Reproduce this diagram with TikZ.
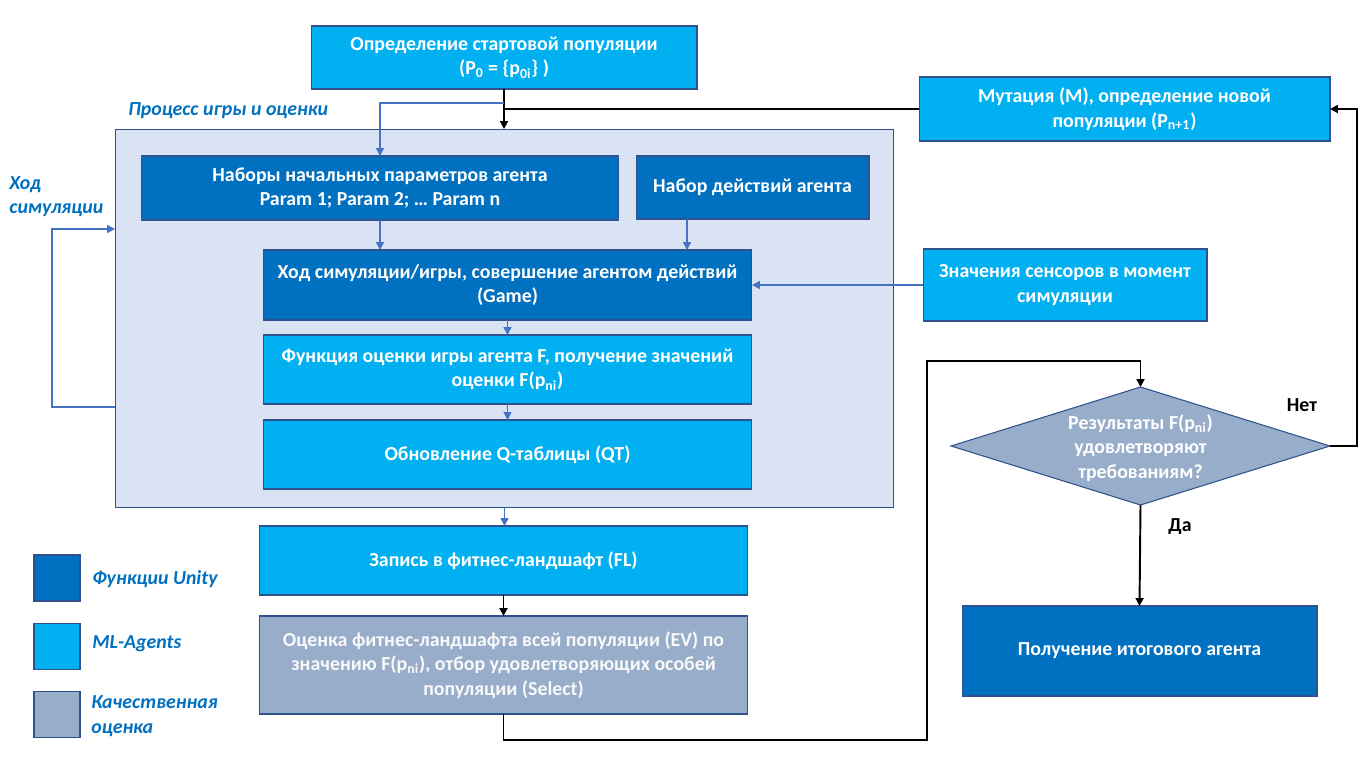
\documentclass[tikz,border=0pt]{standalone}
\usepackage{fontspec}
\setmainfont{Carlito}
\usetikzlibrary{arrows.meta,shapes.geometric}
\definecolor{dkblue}{HTML}{0070C0}
\definecolor{cyanb}{HTML}{00B0F0}
\definecolor{grayb}{HTML}{97ADC9}
\definecolor{bgproc}{HTML}{DAE3F3}
\definecolor{edgec}{HTML}{2F528F}
\definecolor{conn}{HTML}{4472C4}
\definecolor{lbl}{HTML}{0070C0}
\begin{document}
\begin{tikzpicture}[x=0.02cm,y=-0.02cm,
  box/.style={draw=edgec, line width=0.6pt, inner sep=0pt, outer sep=0pt, align=center, text=white, font=\fontsize{11.3}{14}\selectfont\bfseries},
  unity/.style={box, fill=dkblue},
  mla/.style={box, fill=cyanb},
  qual/.style={box, fill=grayb},
  bl/.style={draw=conn, line width=0.9pt, -{Triangle[length=4.5pt,width=4.5pt]}},
  bk/.style={draw=black, line width=1.1pt, -{Triangle[length=4.5pt,width=4.5pt]}},
  bkl/.style={draw=black, line width=1.1pt},
  lab/.style={text=lbl, font=\fontsize{11.3}{14}\selectfont\bfseries\itshape, align=left, inner sep=0pt},
  yn/.style={text=black, font=\fontsize{11.3}{14}\selectfont\bfseries, inner sep=0pt},
]
\useasboundingbox (0,0) rectangle (1368,771);

% process background
\node[draw=edgec, fill=bgproc, line width=0.6pt, minimum width=15.58cm, minimum height=7.58cm, inner sep=0pt, outer sep=0pt] (proc) at (504.5,318.5) {};

\node[mla, minimum width=7.72cm, minimum height=1.26cm] (top) at (504,57.5) {Определение стартовой популяции\\(P\textsubscript{0} = \{p\textsubscript{0i}\} )};
\node[mla, minimum width=8.22cm, minimum height=1.28cm] (mut) at (1124.5,109) {Мутация (М), определение новой\\популяции (P\textsubscript{n+1})};

\node[unity, minimum width=9.56cm, minimum height=1.28cm] (params) at (380,188) {Наборы начальных параметров агента\\Param 1; Param 2; \dots{} Param n};
\node[unity, minimum width=4.66cm, minimum height=1.26cm] (actions) at (752.5,187.5) {Набор действий агента};
\node[unity, minimum width=9.78cm, minimum height=1.40cm] (game) at (507.5,285) {Ход симуляции/игры, совершение агентом действий\\(Game)};
\node[mla, minimum width=9.78cm, minimum height=1.38cm] (fbox) at (507.5,369.5) {Функция оценки игры агента F, получение значений\\оценки F(p\textsubscript{ni})};
\node[mla, minimum width=9.78cm, minimum height=1.38cm] (qt) at (507.5,454.5) {Обновление Q-таблицы (QT)};

\node[mla, minimum width=5.68cm, minimum height=1.44cm] (sens) at (1065,285) {Значения сенсоров в момент\\симуляции};

\node[mla, minimum width=9.78cm, minimum height=1.38cm] (fl) at (503.5,560.5) {Запись в фитнес-ландшафт (FL)};
\node[qual, minimum width=9.78cm, minimum height=1.96cm, text=white!95!gray] (ev) at (503.5,665) {Оценка фитнес-ландшафта всей популяции (EV) по\\значению F(p\textsubscript{ni}), отбор удовлетворяющих особей\\популяции (Select)};

\node[diamond, draw=edgec, fill=grayb, line width=0.6pt, minimum width=7.58cm, minimum height=2.36cm, inner sep=0pt, outer sep=0pt] (dia) at (1140.5,446) {};
\node[box, draw=none] (diat) at (1140.5,448) {Результаты F(p\textsubscript{ni})\\удовлетворяют\\требованиям?};

\node[unity, minimum width=7.10cm, minimum height=1.80cm] (final) at (1139.5,651) {Получение итогового агента};

% labels
\node[lab, anchor=west] (proclab) at (128,111) {Процесс игры и оценки};
\node[lab, anchor=west] (simlab) at (9,196.5) {Ход\\симуляции};
\node[yn] (no) at (1302,405) {Нет};
\node[yn] (yes) at (1180,527) {Да};

% legend
\node[unity, minimum width=0.92cm, minimum height=0.92cm] (lg1) at (57,578) {};
\node[mla, minimum width=0.92cm, minimum height=0.92cm] (lg2) at (57,646.5) {};
\node[qual, minimum width=0.92cm, minimum height=0.92cm] (lg3) at (57,714.5) {};
\node[lab, anchor=west] (lt1) at (92,579) {Функции Unity};
\node[lab, anchor=west] (lt2) at (92,644) {ML-Agents};
\node[lab, anchor=west] (lt3) at (91,716) {Качественная\\оценка};

% connectors
\draw[bk] (top.south) -- (top.south |- proc.north);
\draw[bkl] (mut.west) -- (top.south |- mut.west);
\draw[bl] (top.south |- 0,103) -| (params.north);
\draw[bl] (params.south) -- (params.south |- game.north);
\draw[bl] (actions.south -| 687,0) -- (687,0 |- game.north);
\draw[bl] (game.south) -- (game.south |- fbox.north);
\draw[bl] (fbox.south) -- (qt.north);
\draw[bl] (sens.west) -- (game.east);
\draw[bl] (proc.west |- 0,407) -- (52,407) |- (proc.west |- 0,229);
\draw[bl] (proc.south) -- (proc.south |- fl.north);
\draw[bk] (fl.south) -- (fl.south |- ev.north);
\draw[bk] (ev.south) -- (ev.south |- 0,740) -| (927,361) -| (dia.north);
\draw[bk] (dia.east) -- (1357,0 |- dia.east) |- (mut.east);
\draw[bk] (dia.south) -- (final.north);
\end{tikzpicture}
\end{document}
